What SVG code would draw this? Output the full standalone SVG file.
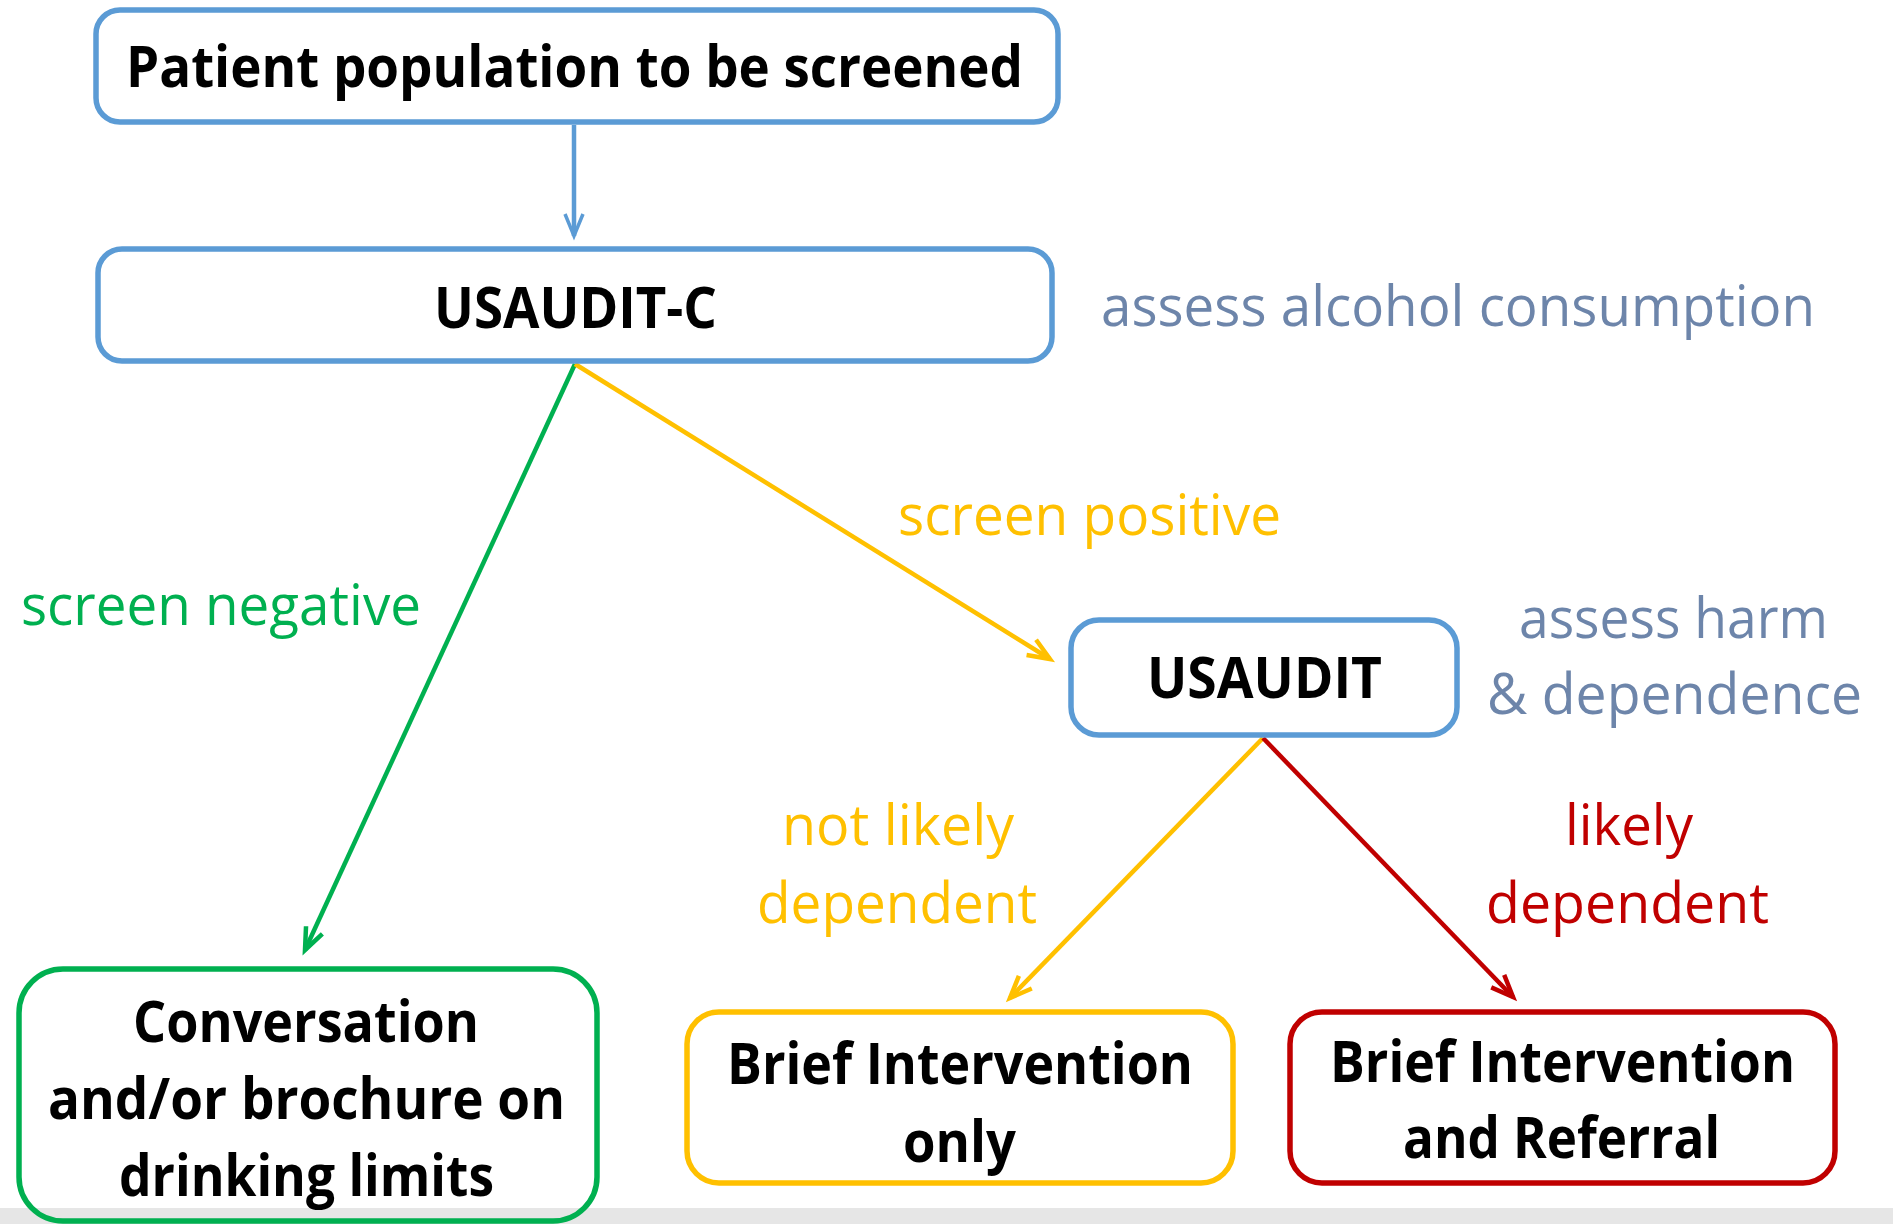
<svg xmlns="http://www.w3.org/2000/svg" width="1893" height="1224" viewBox="0 0 1893 1224">
<style>
.box{fill:none;stroke-width:5.5}
.bt{font-family:"Open Sans","Liberation Sans",sans-serif;font-weight:700;font-size:58px;fill:#000}
.lb{font-family:"Open Sans","Liberation Sans",sans-serif;font-weight:400;font-size:57px}
.c{fill:none;stroke-width:4.5}
</style>
<defs>
<marker id="mb" markerUnits="userSpaceOnUse" markerWidth="40" markerHeight="40" viewBox="-30 -20 40 40" refX="0" refY="0" orient="auto"><path d="M-22,-9 L0,0 L-22,9" fill="none" stroke="#5b9bd5" stroke-width="3.5"/></marker>
<marker id="mg" markerUnits="userSpaceOnUse" markerWidth="40" markerHeight="40" viewBox="-30 -20 40 40" refX="0" refY="0" orient="auto"><path d="M-22,-9 L0,0 L-22,9" fill="none" stroke="#00b050" stroke-width="4.5"/></marker>
<marker id="my" markerUnits="userSpaceOnUse" markerWidth="40" markerHeight="40" viewBox="-30 -20 40 40" refX="0" refY="0" orient="auto"><path d="M-22,-9 L0,0 L-22,9" fill="none" stroke="#ffc000" stroke-width="4.5"/></marker>
<marker id="mr" markerUnits="userSpaceOnUse" markerWidth="40" markerHeight="40" viewBox="-30 -20 40 40" refX="0" refY="0" orient="auto"><path d="M-22,-9 L0,0 L-22,9" fill="none" stroke="#c00000" stroke-width="4.5"/></marker>
</defs>
<rect x="0" y="0" width="1893" height="1224" fill="#fff"/>
<rect x="0" y="1208" width="1893" height="16" fill="#e6e6e6"/>

<g id="connectors">
<line class="c" x1="574" y1="125" x2="574" y2="236" stroke="#5b9bd5" stroke-width="3.5" marker-end="url(#mb)"/>
<line class="c" x1="575" y1="364" x2="305" y2="950" stroke="#00b050" marker-end="url(#mg)"/>
<line class="c" x1="575" y1="364" x2="1050" y2="659" stroke="#ffc000" marker-end="url(#my)"/>
<line class="c" x1="1263" y1="738" x2="1010" y2="998" stroke="#ffc000" marker-end="url(#my)"/>
<line class="c" x1="1263" y1="738" x2="1513" y2="997" stroke="#c00000" marker-end="url(#mr)"/>
</g>

<g id="labels">
<text class="lb" x="1101" y="326" textLength="714" lengthAdjust="spacingAndGlyphs" fill="#6d85aa">assess alcohol consumption</text>
<text class="lb" x="898" y="535" textLength="383" lengthAdjust="spacingAndGlyphs" fill="#ffc000">screen positive</text>
<text class="lb" x="21" y="625" textLength="400" lengthAdjust="spacingAndGlyphs" fill="#00b050">screen negative</text>
<text class="lb" x="1519" y="638" textLength="309" lengthAdjust="spacingAndGlyphs" fill="#6d85aa">assess harm</text>
<text class="lb" x="1487" y="714" textLength="375" lengthAdjust="spacingAndGlyphs" fill="#6d85aa">&amp; dependence</text>
<text class="lb" x="782" y="845" textLength="232" lengthAdjust="spacingAndGlyphs" fill="#ffc000">not likely</text>
<text class="lb" x="757" y="923" textLength="280" lengthAdjust="spacingAndGlyphs" fill="#ffc000">dependent</text>
<text class="lb" x="1565" y="845" textLength="128" lengthAdjust="spacingAndGlyphs" fill="#c00000">likely</text>
<text class="lb" x="1486" y="923" textLength="283" lengthAdjust="spacingAndGlyphs" fill="#c00000">dependent</text>
</g>

<g id="node-population">
<rect class="box" x="96" y="10" width="962" height="112" rx="24" stroke="#5b9bd5"/>
<text class="bt" x="126" y="87" textLength="897" lengthAdjust="spacingAndGlyphs">Patient population to be screened</text>
</g>

<g id="node-usauditc">
<rect class="box" x="98" y="249" width="954" height="112" rx="24" stroke="#5b9bd5"/>
<text class="bt" x="434" y="328" textLength="283" lengthAdjust="spacingAndGlyphs">USAUDIT-C</text>
</g>

<g id="node-usaudit">
<rect class="box" x="1071" y="620" width="386" height="115" rx="28" stroke="#5b9bd5"/>
<text class="bt" x="1147" y="698" textLength="235" lengthAdjust="spacingAndGlyphs">USAUDIT</text>
</g>

<g id="node-conversation">
<rect class="box" x="19" y="969" width="578" height="252" rx="44" stroke="#00b050"/>
<text class="bt" x="133" y="1042" textLength="346" lengthAdjust="spacingAndGlyphs">Conversation</text>
<text class="bt" x="48" y="1119" textLength="517" lengthAdjust="spacingAndGlyphs">and/or brochure on</text>
<text class="bt" x="119" y="1196" textLength="375" lengthAdjust="spacingAndGlyphs">drinking limits</text>
</g>

<g id="node-brief">
<rect class="box" x="687" y="1012" width="546" height="171" rx="32" stroke="#ffc000"/>
<text class="bt" x="727" y="1084" textLength="466" lengthAdjust="spacingAndGlyphs">Brief Intervention</text>
<text class="bt" x="903" y="1162" textLength="113" lengthAdjust="spacingAndGlyphs">only</text>
</g>

<g id="node-referral">
<rect class="box" x="1290" y="1012" width="545" height="171" rx="32" stroke="#c00000"/>
<text class="bt" x="1330" y="1082" textLength="465" lengthAdjust="spacingAndGlyphs">Brief Intervention</text>
<text class="bt" x="1403" y="1158" textLength="317" lengthAdjust="spacingAndGlyphs">and Referral</text>
</g>
</svg>
